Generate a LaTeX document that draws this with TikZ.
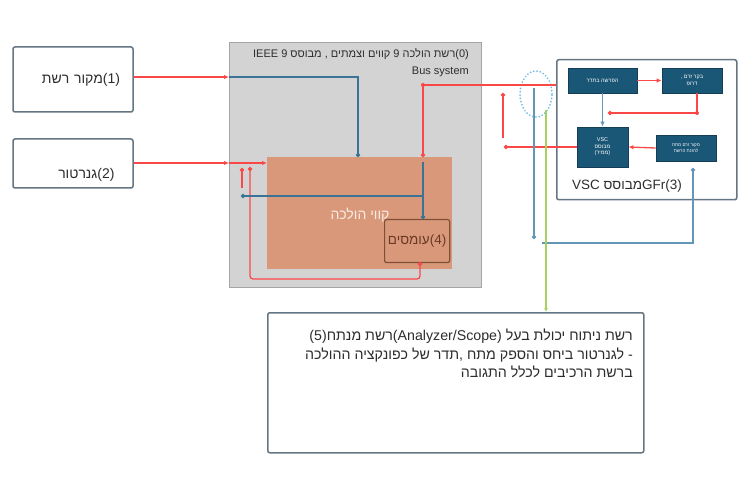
\documentclass[tikz,border=0pt]{standalone}
\usepackage{fontspec}
\setmainfont{Liberation Sans}
\newfontfamily\hebfont[Script=Hebrew]{Liberation Sans}
\TeXXeTstate=1
\usetikzlibrary{arrows.meta,shapes.geometric}
\definecolor{gridfill}{RGB}{211,211,211}
\definecolor{gridborder}{RGB}{165,165,165}
\definecolor{orangefill}{RGB}{218,152,122}
\definecolor{loadsborder}{RGB}{125,80,55}
\definecolor{loadstext}{RGB}{105,58,35}
\definecolor{lighttext}{RGB}{250,236,226}
\definecolor{redc}{RGB}{250,72,72}
\definecolor{bluec}{RGB}{58,115,150}
\definecolor{lightbluec}{RGB}{100,150,185}
\definecolor{greenc}{RGB}{165,210,95}
\definecolor{dotblue}{RGB}{105,185,230}
\definecolor{blockfill}{RGB}{26,86,118}
\definecolor{blockborder}{RGB}{20,62,88}
\definecolor{boxborder}{RGB}{100,118,132}
\definecolor{textc}{RGB}{45,45,45}
\tikzset{
  outbox/.style={draw=boxborder, line width=1.5pt, rounded corners=2pt, fill=white},
  redl/.style={draw=redc, line width=1.3pt},
  bluel/.style={draw=bluec, line width=1.3pt},
  lbluel/.style={draw=lightbluec, line width=1.3pt},
  greenl/.style={draw=greenc, line width=1.3pt},
  blk/.style={draw=blockborder, fill=blockfill, line width=0.8pt, text=white,
    font=\hebfont\fontsize{5.5}{6.5}\selectfont, align=center, inner sep=1pt},
  tipdot/.tip={Circle[length=4pt]},
  tiparr/.tip={Latex[length=5pt,width=4.5pt]},
  txt14/.style={font=\hebfont\fontsize{14}{16}\selectfont, text=textc}
}
\begin{document}
\begin{tikzpicture}[x=1pt,y=-1pt]
\useasboundingbox (0,0) rectangle (740,500);
\fill[white] (0,0) rectangle (740,500);

% source boxes
\node[outbox, minimum width=120pt, minimum height=65pt, text width=94pt, inner xsep=13pt,
      align=right, txt14] (b1) at (73,79.5)
      {\beginR\beginL(1)\endL מקור רשת\endR};
\node[outbox, minimum width=120pt, minimum height=49pt] (b2) at (73,163.5) {};
\node[txt14, anchor=east] (b2t) at (118,175)
      {\beginR\beginL(2)\endL גנרטור\endR};

% grid box
\node[draw=gridborder, fill=gridfill, line width=1pt, anchor=north west,
      minimum width=252pt, minimum height=245pt] (grid) at (229,42) {};
\node[anchor=north east, align=right, font=\hebfont\fontsize{11}{17}\selectfont, text=textc,
      inner sep=0pt] (gridt) at (469,48)
      {\beginR\beginL(0)\endL רשת הולכה 9 קווים וצמתים , מבוסס \beginL IEEE 9\endL\endR\\Bus system};

% transmission lines block
\node[fill=orangefill, anchor=north west, minimum width=185pt, minimum height=112pt,
      inner sep=0pt] (lines) at (267,157) {};
\node[text=lighttext, font=\hebfont\fontsize{14}{16}\selectfont] (linest) at (360,215)
      {\beginR קווי הולכה\endR};
\node[draw=loadsborder, fill=orangefill, line width=1.2pt, rounded corners=2pt,
      anchor=north west, minimum width=63pt, minimum height=43pt, text=loadstext,
      font=\hebfont\fontsize{13.5}{15}\selectfont] (loads) at (384,219)
      {\beginR\beginL(4)\endL עומסים\endR};

% VSC box
\node[outbox, anchor=north west, minimum width=180pt, minimum height=140pt] (vsc) at (556,59) {};
\node[font=\hebfont\fontsize{13.5}{15}\selectfont, text=textc] (vsct) at (627,186)
      {\beginR\beginL(3)\endL\beginL GFr\endL מבוסס \beginL VSC\endL\endR};
\node[blk, minimum width=69pt, minimum height=25pt] (bA) at (602.5,80.5) {\beginR הפרשה בתדר\endR};
\node[blk, minimum width=60pt, minimum height=25pt] (bB) at (692,80.5)
      {\beginR בקר זרם ,\endR\\\beginR דרופ\endR};
\node[blk, minimum width=51pt, minimum height=40pt] (bC) at (602.5,147)
      {VSC\\\beginR מבוסס\endR\\\beginR(ממיר)\endR};
\node[blk, minimum width=60pt, minimum height=26pt, font=\hebfont\fontsize{4.5}{5.5}\selectfont]
      (bD) at (686,148) {\beginR מקור זרם מתח\endR\\\beginR להזנת הרשת\endR};

% analyzer box
\node[outbox, anchor=north west, minimum width=376pt, minimum height=140pt] (b5) at (267,312) {};
\node[anchor=north east, align=right, font=\hebfont\fontsize{14.2}{18.5}\selectfont, text=textc,
      inner sep=0pt] (b5t) at (633,329)
      {\beginR רשת ניתוח יכולת בעל \beginL(Analyzer/Scope)\endL רשת מנתח\beginL(5)\endL\endR\\
       \beginR - לגנרטור ביחס והספק מתח ,תדר של כפונקציה ההולכה\endR\\
       \beginR ברשת הרכיבים לכלל התגובה\endR};

% measurement tap
\node[ellipse, draw=dotblue, line width=1.8pt, dash pattern=on 0.1pt off 3.2pt, line cap=round,
      minimum width=32pt, minimum height=46pt, inner sep=0pt] (tap) at (536,94) {};

% coordinates
\coordinate (g1) at (229,77);
\coordinate (l1) at (358,157);
\coordinate (g2) at (229,163);
\coordinate (lb) at (420,262);
\coordinate (r1) at (250,279);
\coordinate (r2) at (250,167);
\coordinate (r3) at (242,168);
\coordinate (r4) at (242,188);
\coordinate (v1) at (423,162);
\coordinate (h1) at (423,196);
\coordinate (h2) at (241,196);
\coordinate (rv) at (423,85);
\coordinate (s1) at (503,93);
\coordinate (s2) at (503,138);
\coordinate (s3) at (504,147);
\coordinate (t1) at (534,88);
\coordinate (t2) at (534,239);
\coordinate (d1) at (693,168);
\coordinate (d2) at (542,243);
\coordinate (gtop) at (546,110);
\coordinate (bb1) at (697,93);
\coordinate (bb2) at (608,113);

% connectors in grid
\draw[redl, -tiparr] (b1.east |- g1) -- (g1);
\draw[bluel, -tipdot] (g1) -| (l1);
\draw[redl, -tiparr] (b2.east |- g2) -- (g2);
\draw[redl, -tiparr] (g2) -- (lines.west |- g2);
\draw[redl, tipdot-tipdot, rounded corners=3pt] (lb) |- (r1) -- (r2);
\draw[redl, tipdot-] (r3) -- (r4);
\draw[bluel, -tipdot] (v1) -- (v1 |- loads.north);
\draw[bluel, tipdot-] (h2) -- (h1);
\draw[redl, -tipdot] (vsc.west |- rv) -- (rv) -- (rv |- lines.north);
\fill[redc] (rv) circle (2pt);

% connectors at tap
\draw[redl, tipdot-] (s1) -- (s2);
\draw[redl, -tipdot] (bC.west) -- (s3);
\draw[lbluel, -tipdot] (t1) -- (t2);
\draw[lbluel, tipdot-] (d1) |- (d2);
\draw[greenl, -{Latex[length=4pt,width=4pt]}] (gtop) -- (gtop |- b5.north);

% inside VSC
\draw[redl, -tiparr] (bA.east) -- (bB.west);
\draw[redl, -tipdot] (bb1) |- (bb2);
\fill[redc] (bb1 |- bb2) circle (2pt);
\draw[lbluel, -tiparr] (bA.south) -- (bC.north);
\draw[redl, -tiparr] (bD.west) -- (bC.east);
\end{tikzpicture}
\end{document}
